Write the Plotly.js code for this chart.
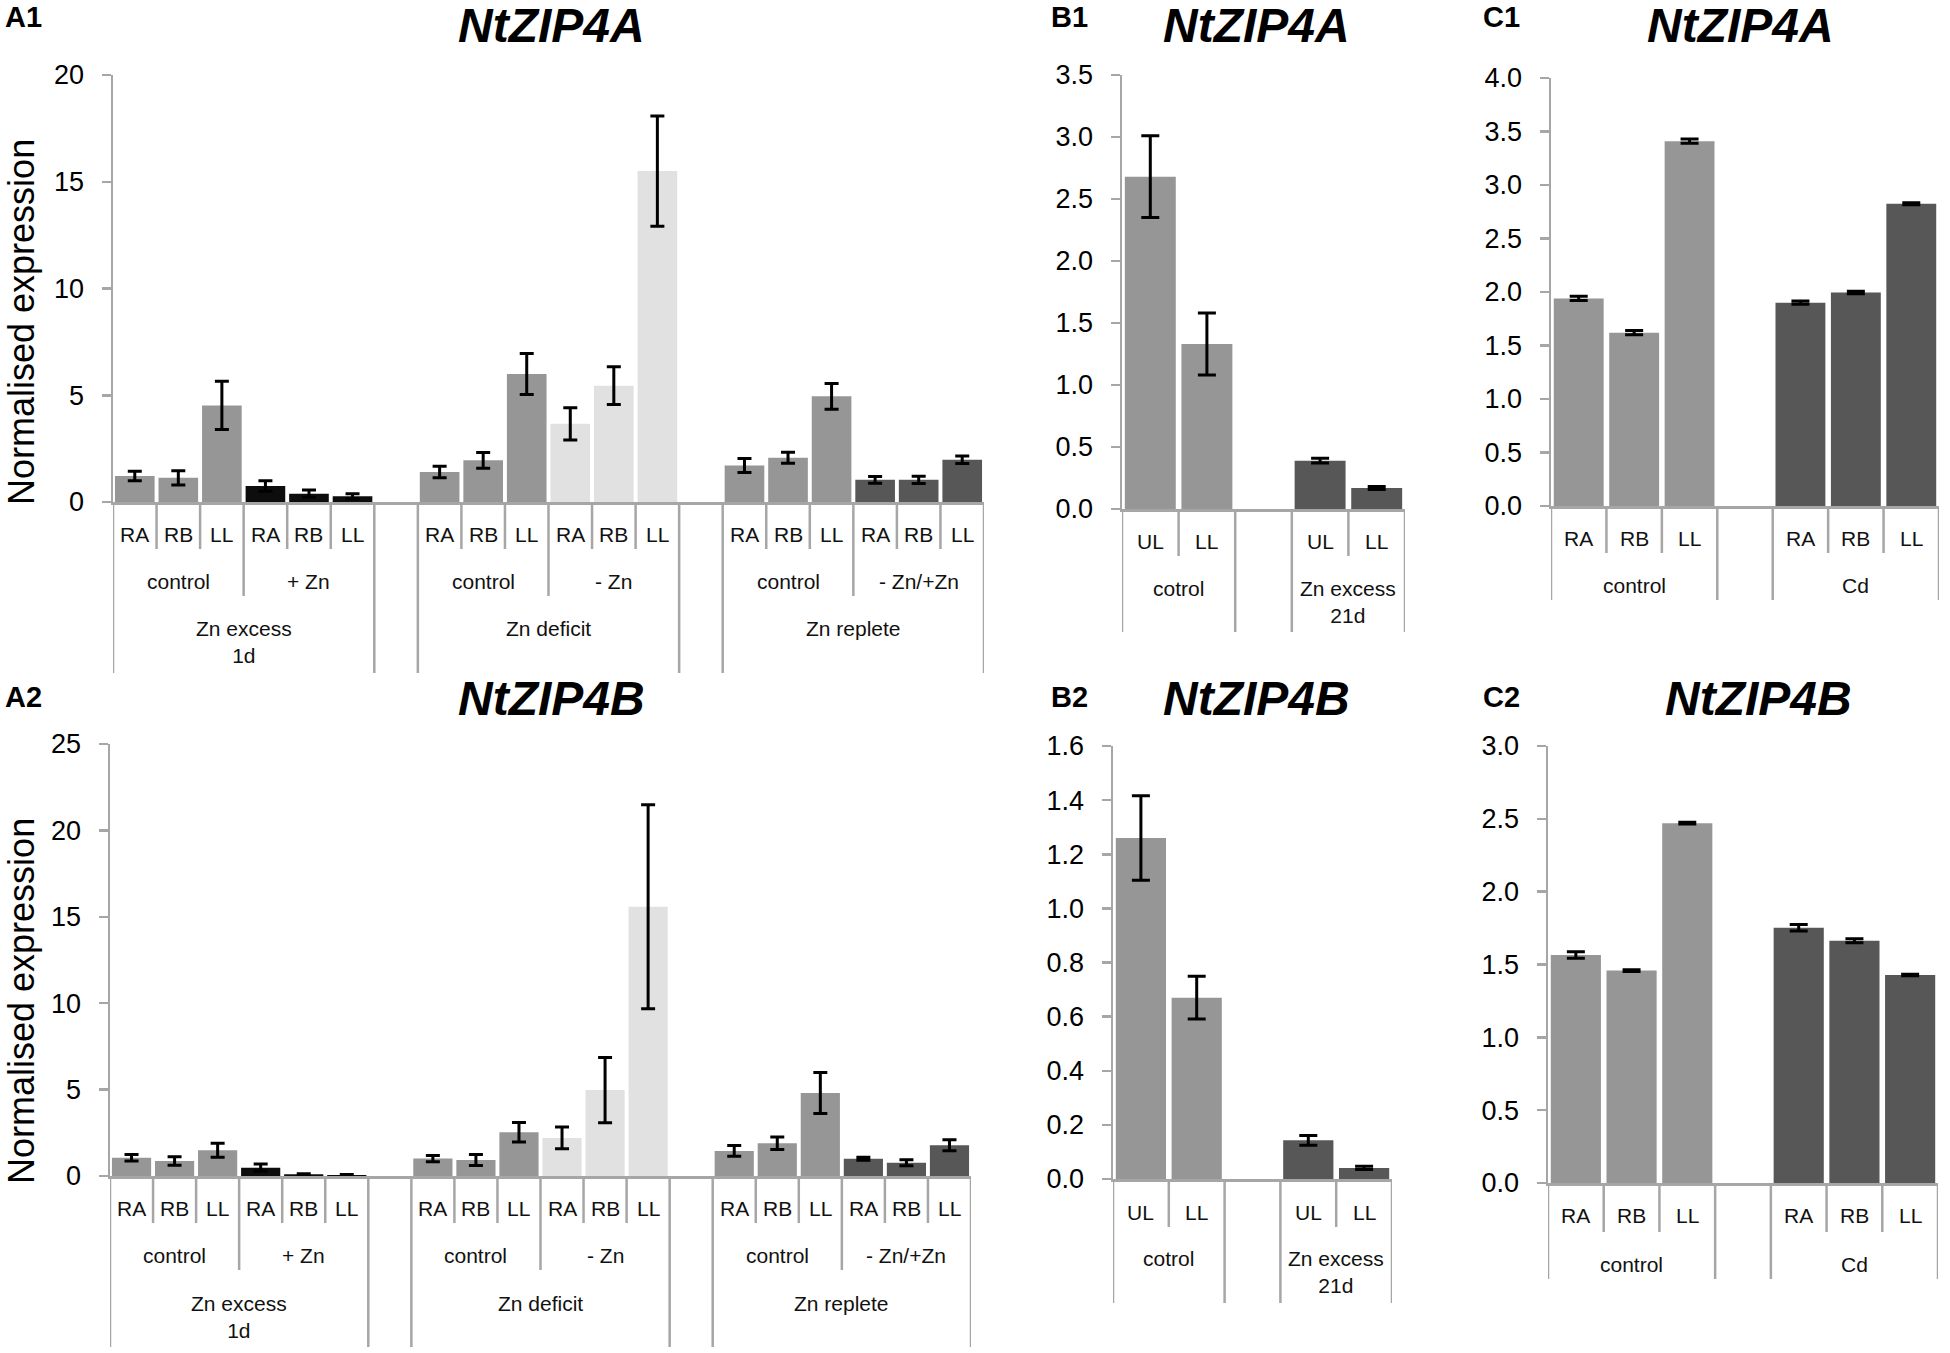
<!DOCTYPE html>
<html>
<head>
<meta charset="utf-8">
<script src="https://cdn.plot.ly/plotly-3.0.1.min.js"></script>
<style>html,body{margin:0;padding:0;background:#fff;}</style>
</head>
<body>
<div id="chart" style="width:1950px;height:1353px;"></div>
<script>
// ---------------- DATA ----------------
const geneTitles = ['NtZIP4A', 'NtZIP4B'];
const yAxisTitle = 'Normalised expression';

// Panels A (Zn excess 1d / Zn deficit / Zn replete)
const tissueLabelsA = ['RA', 'RB', 'LL'];
const conditionLabelsA = [['control', '+ Zn'], ['control', '- Zn'], ['control', '- Zn/+Zn']];
const experimentLabelsA = ['Zn excess<br>1d', 'Zn deficit', 'Zn replete'];
const a1Values = [1.22, 1.13, 4.52, 0.75, 0.39, 0.27,  1.40, 1.95, 6.00, 3.66, 5.45, 15.50,  1.71, 2.07, 4.95, 1.04, 1.04, 1.98];
const a1Errors = [0.22, 0.33, 1.13, 0.25, 0.17, 0.12,  0.27, 0.37, 0.96, 0.76, 0.88, 2.58,  0.33, 0.26, 0.60, 0.16, 0.17, 0.18];
const a2Values = [1.06, 0.87, 1.49, 0.48, 0.10, 0.06,  1.01, 0.93, 2.53, 2.20, 4.97, 15.58,  1.45, 1.89, 4.80, 1.00, 0.77, 1.78];
const a2Errors = [0.19, 0.25, 0.41, 0.21, 0.03, 0.02,  0.18, 0.32, 0.56, 0.63, 1.89, 5.90,  0.31, 0.36, 1.19, 0.09, 0.17, 0.32];

// Panels B (control / Zn excess 21d)
const tissueLabelsB = ['UL', 'LL'];
const conditionLabelsB = ['cotrol', 'Zn excess<br>21d'];
const b1Values = [2.68, 1.33, 0.39, 0.17];
const b1Errors = [0.33, 0.25, 0.02, 0.012];
const b2Values = [1.26, 0.67, 0.143, 0.041];
const b2Errors = [0.156, 0.079, 0.018, 0.006];

// Panels C (control / Cd)
const tissueLabelsC = ['RA', 'RB', 'LL'];
const conditionLabelsC = ['control', 'Cd'];
const c1Values = [1.94, 1.62, 3.41, 1.90, 1.995, 2.825];
const c1Errors = [0.02, 0.02, 0.02, 0.015, 0.012, 0.01];
const c2Values = [1.565, 1.458, 2.47, 1.752, 1.663, 1.428];
const c2Errors = [0.022, 0.006, 0.006, 0.022, 0.013, 0.005];

// ---------------- STYLE ----------------
const W = 1950, H = 1353;
const FONT = 'Liberation Sans, Arial, Helvetica, sans-serif';
const AXIS_GREY = '#a6a6a6';
const COL = {ctrl: '#969696', black: '#0d0d0d', light: '#e1e1e1', dark: '#575757'};
const px = v => v / W;
const py = v => 1 - v / H;

const panels = [
  {letter: 'A1', title: geneTitles[0], titleX: 551, titleY: 26, letterX: 3, letterY: 17,
   left: 113, right: 984, top: 75, zero: 502, ymax: 20, dtick: 5, fmt: 'd',
   values: a1Values, errors: a1Errors, nGroups: 3, nSub: 2, nLeaf: 3,
   leafLabels: tissueLabelsA, subLabels: conditionLabelsA, topLabels: experimentLabelsA,
   colors: [[COL.ctrl, COL.black], [COL.ctrl, COL.light], [COL.ctrl, COL.dark]],
   barWidth: 0.91, cap: 7, off: {row1: 32, sep1: 47, row2: 79, sep2: 94, row3: 126, sep3: 171},
   yTitleY: 322},
  {letter: 'A2', title: geneTitles[1], titleX: 551, titleY: 698, letterX: 3, letterY: 697,
   left: 110, right: 971, top: 744, zero: 1176, ymax: 25, dtick: 5, fmt: 'd',
   values: a2Values, errors: a2Errors, nGroups: 3, nSub: 2, nLeaf: 3,
   leafLabels: tissueLabelsA, subLabels: conditionLabelsA, topLabels: experimentLabelsA,
   colors: [[COL.ctrl, COL.black], [COL.ctrl, COL.light], [COL.ctrl, COL.dark]],
   barWidth: 0.91, cap: 7, off: {row1: 32, sep1: 47, row2: 79, sep2: 94, row3: 127, sep3: 171},
   yTitleY: 1001},
  {letter: 'B1', title: geneTitles[0], titleX: 1256, titleY: 26, letterX: 1049, letterY: 17,
   left: 1122, right: 1405, top: 75, zero: 509, ymax: 3.5, dtick: 0.5, fmt: '.1f',
   values: b1Values, errors: b1Errors, nGroups: 2, nSub: 1, nLeaf: 2,
   leafLabels: tissueLabelsB, topLabels: conditionLabelsB,
   colors: [[COL.ctrl], [COL.dark]],
   barWidth: 0.9, cap: 9, off: {row1: 32, sep1: 47, row2: 79, sep2: 123}},
  {letter: 'B2', title: geneTitles[1], titleX: 1256, titleY: 698, letterX: 1049, letterY: 697,
   left: 1113, right: 1392, top: 746, zero: 1179, ymax: 1.6, dtick: 0.2, fmt: '.1f',
   values: b2Values, errors: b2Errors, nGroups: 2, nSub: 1, nLeaf: 2,
   leafLabels: tissueLabelsB, topLabels: conditionLabelsB,
   colors: [[COL.ctrl], [COL.dark]],
   barWidth: 0.9, cap: 9, off: {row1: 33, sep1: 48, row2: 79, sep2: 124}},
  {letter: 'C1', title: geneTitles[0], titleX: 1740, titleY: 26, letterX: 1481, letterY: 17,
   left: 1551, right: 1939, top: 78, zero: 506, ymax: 4, dtick: 0.5, fmt: '.1f',
   values: c1Values, errors: c1Errors, nGroups: 2, nSub: 1, nLeaf: 3,
   leafLabels: tissueLabelsC, topLabels: conditionLabelsC,
   colors: [[COL.ctrl], [COL.dark]],
   barWidth: 0.9, cap: 9, off: {row1: 32, sep1: 47, row2: 79, sep2: 94}},
  {letter: 'C2', title: geneTitles[1], titleX: 1758, titleY: 698, letterX: 1481, letterY: 697,
   left: 1548, right: 1938, top: 746, zero: 1183, ymax: 3, dtick: 0.5, fmt: '.1f',
   values: c2Values, errors: c2Errors, nGroups: 2, nSub: 1, nLeaf: 3,
   leafLabels: tissueLabelsC, topLabels: conditionLabelsC,
   colors: [[COL.ctrl], [COL.dark]],
   barWidth: 0.9, cap: 9, off: {row1: 32, sep1: 49, row2: 81, sep2: 96}}
];

const traces = [];
const shapes = [];
const annotations = [];
const layout = {
  width: W, height: H,
  margin: {l: 0, r: 0, t: 0, b: 0, pad: 0},
  paper_bgcolor: '#ffffff', plot_bgcolor: '#ffffff',
  showlegend: false,
  font: {family: FONT, color: '#000000'},
  title: {text: ''}
};

const labelFont = {family: FONT, size: 21, color: '#111111'};
const LINE_SP = 21 * 1.3;

panels.forEach((p, k) => {
  const n = k + 1;
  const xa = n === 1 ? 'x' : 'x' + n;
  const ya = n === 1 ? 'y' : 'y' + n;
  const groupSize = p.nSub * p.nLeaf;
  const nSlots = p.nGroups * (groupSize + 1) - 1;

  // bar positions and colours from the group structure
  const xs = [], cols = [];
  for (let g = 0; g < p.nGroups; g++) {
    for (let s = 0; s < p.nSub; s++) {
      for (let j = 0; j < p.nLeaf; j++) {
        xs.push(g * (groupSize + 1) + s * p.nLeaf + j);
        cols.push(p.colors[g][s]);
      }
    }
  }

  traces.push({
    type: 'bar', x: xs, y: p.values, xaxis: xa, yaxis: ya,
    width: p.barWidth,
    marker: {color: cols, line: {width: 0}},
    error_y: {type: 'data', array: p.errors, visible: true, color: '#000000', thickness: 3, width: p.cap},
    hoverinfo: 'y', showlegend: false
  });

  layout['xaxis' + (n === 1 ? '' : n)] = {
    domain: [px(p.left), px(p.right)], anchor: ya,
    range: [-0.5, nSlots - 0.5], showline: true, linecolor: AXIS_GREY, linewidth: 2.5,
    showticklabels: false, ticks: '', showgrid: false, zeroline: false, fixedrange: true
  };
  layout['yaxis' + (n === 1 ? '' : n)] = {
    domain: [py(p.zero), py(p.top)], anchor: xa,
    range: [0, p.ymax], tickmode: 'linear', tick0: 0, dtick: p.dtick, tickformat: p.fmt,
    showline: true, linecolor: AXIS_GREY, linewidth: 2.5,
    ticks: 'outside', ticklen: 9, tickwidth: 2.5, tickcolor: AXIS_GREY,
    ticklabelstandoff: 12,
    tickfont: {family: FONT, size: 27, color: '#000000'},
    showgrid: false, zeroline: false, fixedrange: true
  };

  const z = p.zero, o = p.off;
  const three = p.nSub > 1;
  const fullBottom = three ? o.sep3 : o.sep2;
  const addLine = (x, depth) => shapes.push({
    type: 'line', xref: xa, yref: 'paper', x0: x, x1: x,
    y0: py(z), y1: py(z + depth), line: {color: AXIS_GREY, width: 2.5}
  });
  const addLabel = (x, yCenter, text) => {
    const lines = text.split('<br>').length;
    annotations.push({
      xref: xa, yref: 'paper', x: x, y: py(yCenter + (lines - 1) * LINE_SP / 2),
      text: text, showarrow: false, xanchor: 'center', yanchor: 'middle',
      font: labelFont, align: 'center'
    });
  };

  for (let g = 0; g < p.nGroups; g++) {
    const s0 = g * (groupSize + 1);
    addLine(s0 - 0.5, fullBottom);
    addLine(s0 + groupSize - 0.5, fullBottom);
    for (let j = 1; j < groupSize; j++) {
      if (j % p.nLeaf === 0) addLine(s0 + j - 0.5, o.sep2);
      else addLine(s0 + j - 0.5, o.sep1);
    }
    for (let s = 0; s < p.nSub; s++) {
      for (let j = 0; j < p.nLeaf; j++) {
        addLabel(s0 + s * p.nLeaf + j, z + o.row1, p.leafLabels[j]);
      }
      if (three) addLabel(s0 + s * p.nLeaf + (p.nLeaf - 1) / 2, z + o.row2, p.subLabels[g][s]);
    }
    if (three) addLabel(s0 + (groupSize - 1) / 2, z + o.row3, p.topLabels[g]);
    else addLabel(s0 + (groupSize - 1) / 2, z + o.row2, p.topLabels[g]);
  }

  // gene title
  annotations.push({
    xref: 'paper', yref: 'paper', x: px(p.titleX), y: py(p.titleY),
    text: '<b><i>' + p.title + '</i></b>', showarrow: false,
    xanchor: 'center', yanchor: 'middle', font: {family: FONT, size: 48, color: '#000000'}
  });
  // panel letter
  annotations.push({
    xref: 'paper', yref: 'paper', x: px(p.letterX), y: py(p.letterY),
    text: '<b>' + p.letter + '</b>', showarrow: false,
    xanchor: 'left', yanchor: 'middle', font: {family: FONT, size: 29, color: '#000000'}
  });
  // y-axis title (A panels only)
  if (p.yTitleY) {
    annotations.push({
      xref: 'paper', yref: 'paper', x: px(21), y: py(p.yTitleY),
      text: yAxisTitle, textangle: -90, showarrow: false,
      xanchor: 'center', yanchor: 'middle', font: {family: FONT, size: 36, color: '#000000'}
    });
  }
});

layout.shapes = shapes;
layout.annotations = annotations;

Plotly.newPlot('chart', traces, layout, {displayModeBar: false, staticPlot: true});
</script>
</body>
</html>
